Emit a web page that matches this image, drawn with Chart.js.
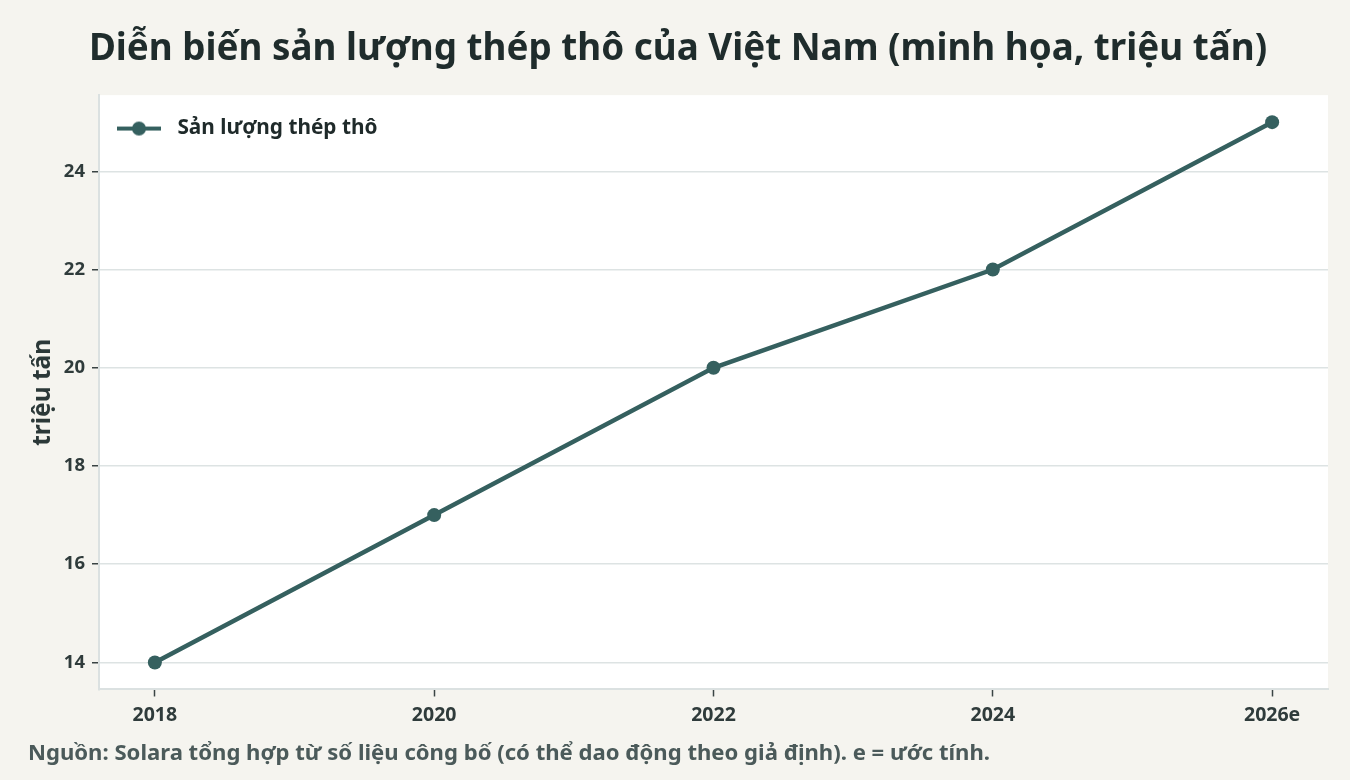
<!DOCTYPE html>
<html>
<head>
<meta charset="utf-8">
<script src="https://cdn.jsdelivr.net/npm/chart.js@4"></script>
<style>
html,body{margin:0;padding:0;background:#f5f4ef;}
#wrap{width:1350px;height:780px;}
</style>
</head>
<body>
<div id="wrap"><canvas id="c" width="1350" height="780"></canvas></div>
<script>
const years = [2018, 2020, 2022, 2024, 2026];
const yearLabels = ['2018', '2020', '2022', '2024', '2026e'];
const output = [14, 17, 20, 22, 25];
const yTicks = [14, 16, 18, 20, 22, 24];

const FONT = "'Noto Sans', 'DejaVu Sans', sans-serif";
const LINE = '#35605f';

// legend marker: line with a dot
const marker = document.createElement('canvas');
marker.width = 50; marker.height = 16;
(function(){
  const g = marker.getContext('2d');
  g.strokeStyle = LINE; g.lineWidth = 4;
  g.beginPath(); g.moveTo(0, 8); g.lineTo(44, 8); g.stroke();
  g.fillStyle = LINE; g.beginPath(); g.arc(22, 8, 7, 0, Math.PI*2); g.fill();
})();

const bgPlugin = {
  id: 'areaBg',
  afterLayout(chart){
    const lg = chart.legend;
    if (lg) {
      const h = lg.bottom - lg.top;
      lg.top = chart.chartArea.top + 5;
      lg.bottom = lg.top + h;
    }
  },
  beforeDraw(chart){
    const {ctx, chartArea:a} = chart;
    ctx.save();
    ctx.fillStyle = '#ffffff';
    ctx.fillRect(a.left, a.top, a.right - a.left, a.bottom - a.top);
    ctx.restore();
  }
};

new Chart(document.getElementById('c'), {
  type: 'line',
  data: {
    datasets: [{
      label: 'Sản lượng thép thô',
      data: years.map((y, i) => ({x: y, y: output[i]})),
      borderColor: LINE,
      backgroundColor: LINE,
      borderWidth: 4.5,
      pointRadius: 7,
      pointBorderWidth: 0,
      pointBackgroundColor: LINE,
      tension: 0
    }]
  },
  options: {
    responsive: false,
    animation: false,
    layout: {padding: {left: 28, right: 22, top: 0, bottom: 0}},
    plugins: {
      title: {
        display: true,
        text: 'Diễn biến sản lượng thép thô của Việt Nam (minh họa, triệu tấn)',
        color: '#1f2c2c',
        font: {family: FONT, size: 36.8, weight: '700'},
        padding: {top: 27, bottom: 24}
      },
      subtitle: {
        display: true,
        position: 'bottom',
        align: 'start',
        text: 'Nguồn: Solara tổng hợp từ số liệu công bố (có thể dao động theo giả định). e = ước tính.',
        color: '#4b5a5a',
        font: {family: FONT, size: 22.1, weight: '700'},
        padding: {top: 6, bottom: 13}
      },
      legend: {
        position: 'chartArea',
        align: 'start',
        labels: {
          usePointStyle: true,
          pointStyleWidth: 50,
          color: '#1f2a2a',
          font: {family: FONT, size: 20.8, weight: '700'},
          padding: 18,
          generateLabels(chart){
            const items = Chart.defaults.plugins.legend.labels.generateLabels(chart);
            items.forEach(it => { it.pointStyle = marker; });
            return items;
          }
        }
      },
      tooltip: {enabled: false}
    },
    scales: {
      x: {
        type: 'linear',
        min: 2017.6,
        max: 2026.4,
        afterBuildTicks(scale){ scale.ticks = years.map(v => ({value: v})); },
        afterFit(scale){ scale.height = 45; },
        ticks: {
          color: '#2f3b3b',
          font: {family: FONT, size: 19.5, weight: '700'},
          padding: 7,
          callback(v){ const i = years.indexOf(v); return i >= 0 ? yearLabels[i] : ''; }
        },
        grid: {drawOnChartArea: false, drawTicks: true, tickLength: 7, tickColor: '#3a4444', tickWidth: 1.5},
        border: {display: true, color: '#dbe1e1', width: 2}
      },
      y: {
        min: 13.45,
        max: 25.55,
        afterBuildTicks(scale){ scale.ticks = yTicks.map(v => ({value: v})); },
        afterFit(scale){ scale.width = 71; },
        title: {
          display: true,
          text: 'triệu tấn',
          color: '#2b3838',
          font: {family: FONT, size: 24.5, weight: '700'},
          padding: {top: 0, bottom: 3}
        },
        ticks: {
          color: '#2f3b3b',
          font: {family: FONT, size: 18.5, weight: '700'},
          padding: 7
        },
        grid: {color: '#dde3e3', lineWidth: 1.5, drawTicks: true, tickLength: 7, tickColor: '#3a4444', tickWidth: 1.5},
        border: {display: true, color: '#dbe1e1', width: 2}
      }
    }
  },
  plugins: [bgPlugin]
});
</script>
</body>
</html>
